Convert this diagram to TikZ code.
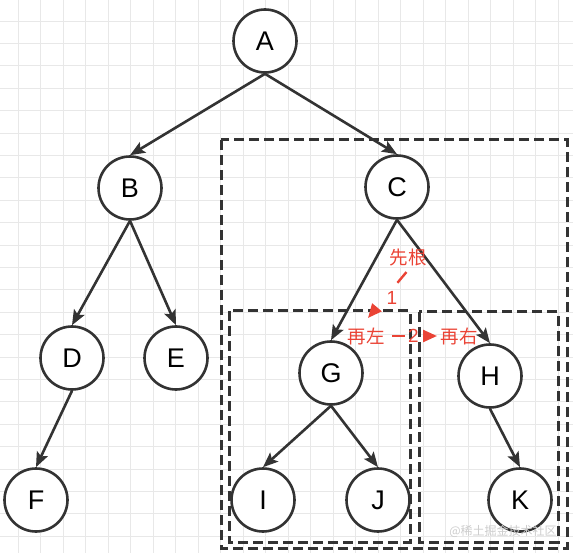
\documentclass[tikz,border=0pt]{standalone}
\usepackage{fontspec}
\setmainfont{Liberation Sans}
\newfontfamily\cjk{Noto Sans CJK SC}
\usetikzlibrary{arrows.meta,positioning}
\definecolor{edgecol}{RGB}{51,51,51}
\definecolor{notecol}{RGB}{234,67,53}
\definecolor{gridcol}{RGB}{232,232,232}

\begin{document}
\begin{tikzpicture}[x=1pt, y=-1pt, >={Stealth[length=15pt,width=12pt,inset=3pt]},
    treenode/.style={circle, draw=edgecol, line width=2.6pt, fill=white,
      minimum size=63pt, inner sep=0pt, font=\fontsize{27}{27}\selectfont},
    treeedge/.style={->, edgecol, line width=2.6pt},
    groupbox/.style={edgecol, line width=3pt, dash pattern=on 10pt off 5pt},
    note/.style={notecol, font=\cjk\fontsize{18.5}{18.5}\selectfont, inner sep=1pt},
    num/.style={notecol, font=\fontsize{19}{19}\selectfont, inner sep=1pt},
    notearrow/.style={->, notecol, line width=2.4pt, >={Triangle[length=14pt,width=12pt]}}]
    \useasboundingbox (0,0) rectangle (573,553);
    % background grid
    \foreach \gx in {0,...,25}
      \draw[gridcol, line width=0.8pt] (18+22.5*\gx,0) -- (18+22.5*\gx,553);
    \foreach \gy in {0,...,24}
      \draw[gridcol, line width=0.8pt] (0,21+22.4*\gy) -- (573,21+22.4*\gy);
    % dashed groups
    \draw[groupbox] (221,140) rectangle (567,548);
    \draw[groupbox] (229,311) rectangle (410,542);
    \draw[groupbox] (419,312) rectangle (558,542);
    % tree nodes
    \node[treenode] (A) at (265,41) {A};
    \node[treenode] (B) at (130,188) {B};
    \node[treenode] (C) at (397,187) {C};
    \node[treenode] (D) at (72,358) {D};
    \node[treenode] (E) at (176,358) {E};
    \node[treenode] (G) at (331,373) {G};
    \node[treenode] (H) at (490,376) {H};
    \node[treenode] (F) at (36,500) {F};
    \node[treenode] (I) at (263,500) {I};
    \node[treenode] (J) at (378,500) {J};
    \node[treenode] (K) at (520,500) {K};
    % edges: bottom of parent to top of child
    \draw[treeedge] (A.south) -- (B.north);
    \draw[treeedge] (A.south) -- (C.north);
    \draw[treeedge] (B.south) -- (D.north);
    \draw[treeedge] (B.south) -- (E.north);
    \draw[treeedge] (D.south) -- (F.north);
    \draw[treeedge] (C.south) -- (G.north);
    \draw[treeedge] (C.south) -- (H.north);
    \draw[treeedge] (G.south) -- (I.north);
    \draw[treeedge] (G.south) -- (J.north);
    \draw[treeedge] (H.south) -- (K.north);
    % visiting order
    \node[note] (root) at (408,258) {先根};
    \node[note] (left) at (366,336) {再左};
    \node[note] (right) at (459,336) {再右};
    \coordinate (rs) at (409,269);
    \coordinate (le) at (368,318);
    \draw[notearrow, dash pattern=on 0pt off 4pt on 14pt off 60pt] (rs) -- (le)
      node[num, pos=0.6, right=0pt] (one) {1};
    \coordinate (ls) at (390,336);
    \coordinate (re) at (437,336);
    \draw[notearrow, dash pattern=on 0pt off 2pt on 13pt off 40pt] (ls) -- (re)
      node[num, pos=0.5] (two) {2};
    % watermark
    \node[gray!40, font=\cjk\fontsize{12}{12}\selectfont] (mark) at (503,531) {@稀土掘金技术社区};
\end{tikzpicture}
\end{document}
